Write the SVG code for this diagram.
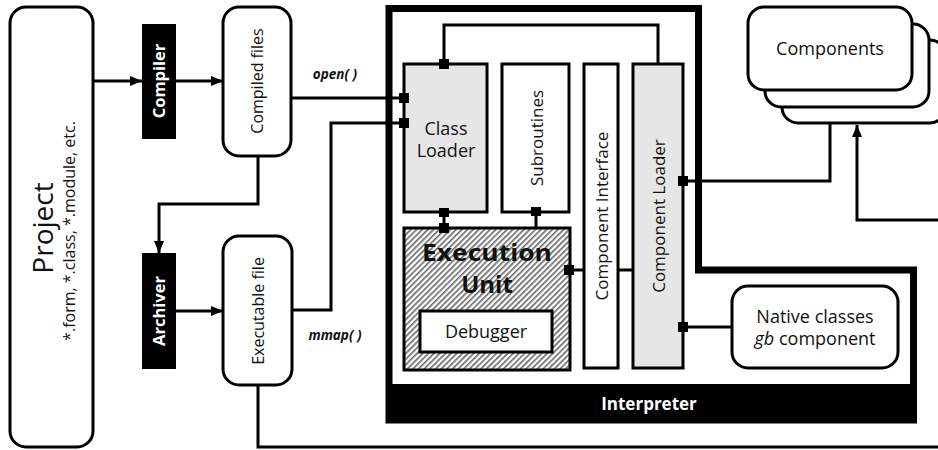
<svg xmlns="http://www.w3.org/2000/svg" width="938" height="450" viewBox="0 0 938 450">
<defs>
<marker id="arr" markerWidth="12" markerHeight="10" refX="12" refY="5" orient="auto" markerUnits="userSpaceOnUse">
<path d="M0,0 L12,5 L0,10 z" fill="#000"/>
</marker>
<pattern id="hatch" patternUnits="userSpaceOnUse" width="4" height="4" patternTransform="rotate(45)">
<rect width="4" height="4" fill="#fff"/>
<rect width="1.6" height="4" fill="#666"/>
</pattern>
</defs>
<style>
.box{fill:#fff;stroke:#000;stroke-width:3}
.gray{fill:#e6e6e6;stroke:#000;stroke-width:3}
.blk{fill:#000}
.ln{fill:none;stroke:#000;stroke-width:3}
.sq{fill:#000}
text{font-family:"Open Sans","DejaVu Sans",sans-serif;fill:#111}
.wt{fill:#fff;font-weight:bold}
.lbl{font-style:italic;font-weight:bold;font-size:13.5px}
</style>
<rect width="938" height="450" fill="#fff"/>

<g id="connectors">
<line class="ln" x1="93" y1="81" x2="142" y2="81" marker-end="url(#arr)"/>
<line class="ln" x1="176" y1="81" x2="223" y2="81" marker-end="url(#arr)"/>
<polyline class="ln" points="258,156 258,204 159,204 159,253" marker-end="url(#arr)"/>
<line class="ln" x1="176" y1="311" x2="223" y2="311" marker-end="url(#arr)"/>
<polyline class="ln" points="291,98 404,98"/>
<polyline class="ln" points="292,310 331,310 331,123 404,123"/>
<polyline class="ln" points="258,385 258,447 938,447"/>
<polyline class="ln" points="444,64 444,25 658,25 658,64"/>
<line class="ln" x1="444" y1="212" x2="444" y2="228"/>
<line class="ln" x1="536" y1="212" x2="536" y2="228"/>
<line class="ln" x1="570" y1="270" x2="584" y2="270"/>
<line class="ln" x1="618" y1="270" x2="633" y2="270"/>
<polyline class="ln" points="683,181 830,181 830,123"/>
<polyline class="ln" points="938,220 857,220 857,125" marker-end="url(#arr)"/>
<line class="ln" x1="683" y1="327" x2="732" y2="327"/>
<text class="lbl" x="335" y="79" text-anchor="middle">open( )</text>
<text class="lbl" x="335" y="340" text-anchor="middle">mmap( )</text>
</g>

<g id="project">
<rect class="box" x="10" y="7" width="83" height="440" rx="16"/>
<text transform="translate(53,228) rotate(-90)" text-anchor="middle" font-size="28">Project</text>
<text transform="translate(75,231) rotate(-90)" text-anchor="middle" font-size="16">*.form, *.class, *.module, etc.</text>
</g>

<g id="compiler">
<rect class="blk" x="142" y="24" width="34" height="115"/>
<text class="wt" transform="translate(165,81) rotate(-90)" text-anchor="middle" font-size="16.5">Compiler</text>
</g>

<g id="compiled-files">
<rect class="box" x="223" y="7" width="68" height="149" rx="16"/>
<text transform="translate(263,81) rotate(-90)" text-anchor="middle" font-size="16">Compiled files</text>
</g>

<g id="archiver">
<rect class="blk" x="142" y="253" width="34" height="116"/>
<text class="wt" transform="translate(165,311) rotate(-90)" text-anchor="middle" font-size="16.5">Archiver</text>
</g>

<g id="executable-file">
<rect class="box" x="223" y="236" width="69" height="149" rx="16"/>
<text transform="translate(264,311) rotate(-90)" text-anchor="middle" font-size="16">Executable file</text>
</g>

<g id="interpreter">
<path d="M389,8.5 H698.5 V270 H913.5 V420 H389 Z" fill="none" stroke="#000" stroke-width="7"/>
<rect class="blk" x="386" y="384" width="531" height="38"/>
<text class="wt" x="649" y="410" text-anchor="middle" font-size="17">Interpreter</text>
</g>

<g id="class-loader">
<rect class="gray" x="404" y="64" width="83" height="148"/>
<text x="446" y="135" text-anchor="middle" font-size="18">Class</text>
<text x="446" y="157" text-anchor="middle" font-size="18">Loader</text>
<rect class="sq" x="399" y="93" width="10" height="10"/>
<rect class="sq" x="399" y="118" width="10" height="10"/>
<rect class="sq" x="439" y="59" width="10" height="10"/>
<rect class="sq" x="439" y="208" width="10" height="9"/>
</g>

<g id="subroutines">
<rect class="box" x="502" y="64" width="67" height="148"/>
<text transform="translate(543,138) rotate(-90)" text-anchor="middle" font-size="17">Subroutines</text>
<rect class="sq" x="531" y="207" width="10" height="9"/>
</g>

<g id="execution-unit">
<rect x="404" y="228" width="166" height="142" fill="url(#hatch)" stroke="#000" stroke-width="3"/>
<text x="487" y="261" text-anchor="middle" font-size="24" font-weight="bold" textLength="130" lengthAdjust="spacingAndGlyphs">Execution</text>
<text x="487" y="293" text-anchor="middle" font-size="24" font-weight="bold">Unit</text>
<rect class="sq" x="439" y="223" width="10" height="10"/>
<rect class="sq" x="564" y="265" width="10" height="10"/>
<rect class="box" x="420" y="311" width="132" height="41"/>
<text x="486" y="338" text-anchor="middle" font-size="18">Debugger</text>
</g>

<g id="component-interface">
<rect class="box" x="584" y="64" width="34" height="304"/>
<text transform="translate(608,216) rotate(-90)" text-anchor="middle" font-size="17">Component Interface</text>
</g>

<g id="component-loader">
<rect class="gray" x="633" y="64" width="50" height="304"/>
<text transform="translate(665,216) rotate(-90)" text-anchor="middle" font-size="17">Component Loader</text>
<rect class="sq" x="678" y="176" width="10" height="10"/>
<rect class="sq" x="678" y="322" width="10" height="10"/>
</g>

<g id="components">
<rect class="box" x="782" y="40" width="164" height="83" rx="16"/>
<rect class="box" x="765" y="24" width="164" height="83" rx="16"/>
<rect class="box" x="748" y="7" width="164" height="83" rx="16"/>
<text x="830" y="55" text-anchor="middle" font-size="18">Components</text>
</g>

<g id="native-classes">
<rect class="box" x="732" y="286" width="166" height="82" rx="16"/>
<text x="815" y="323" text-anchor="middle" font-size="18">Native classes</text>
<text x="815" y="345" text-anchor="middle" font-size="18"><tspan font-style="italic">gb</tspan> component</text>
</g>
</svg>
